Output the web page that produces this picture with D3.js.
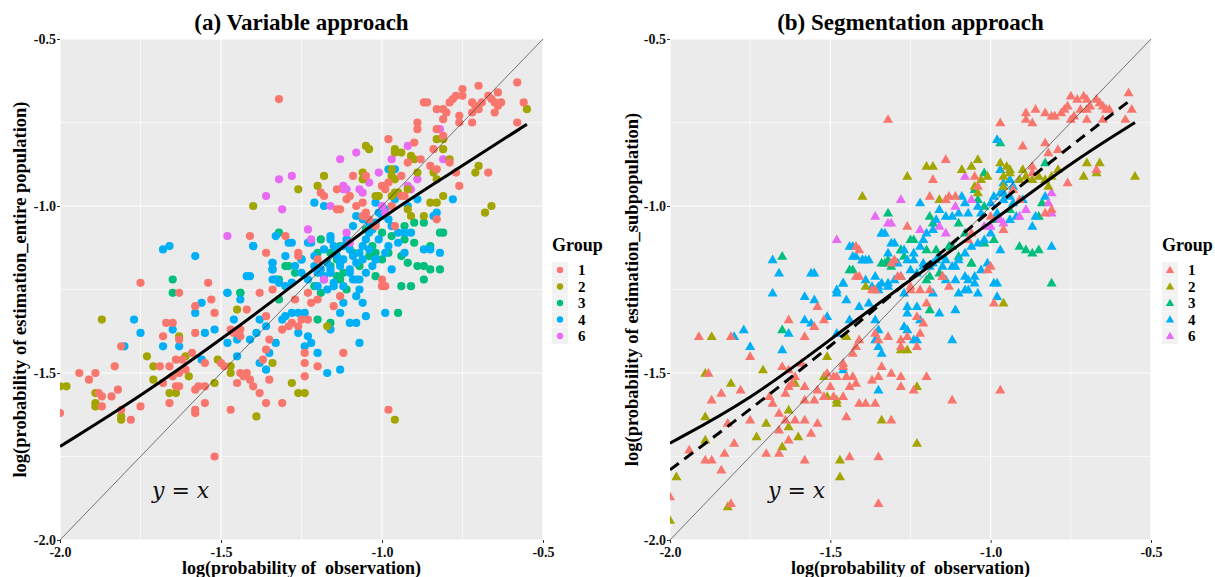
<!DOCTYPE html>
<html>
<head>
<meta charset="utf-8">
<script src="https://d3js.org/d3.v7.min.js"></script>
<style>
  body { margin: 0; background: #fff; }
  text { font-family: "Liberation Serif", "Times New Roman", serif; }
</style>
</head>
<body>
<div id="chart"></div>
<script>
// tick values (both axes, both panels)
var ticks = [-2.0, -1.5, -1.0, -0.5];
var minorTicks = [-1.75, -1.25, -0.75];
var groups = ["1", "2", "3", "4", "6"];
var palette = ["#F8766D", "#A3A500", "#00BF7D", "#00B0F6", "#E76BF3"];

// (a) Variable approach: [log prob observation, log prob estimation]
var a1 = [[-1.32,-0.68],[-0.58,-0.63],[-0.70,-0.64],[-0.75,-0.65],[-0.77,-0.67],[-0.78,-0.68],[-0.79,-0.69],[-0.81,-0.71],[-0.83,-0.71],[-0.80,-0.72],[-0.81,-0.74],[-0.76,-0.73],[-0.75,-0.67],[-0.72,-0.69],[-0.71,-0.70],[-0.69,-0.69],[-0.70,-0.71],[-0.72,-0.72],[-0.72,-0.75],[-0.76,-0.75],[-0.67,-0.67],[-0.66,-0.68],[-0.64,-0.66],[-0.65,-0.69],[-0.63,-0.69],[-0.64,-0.70],[-0.65,-0.72],[-0.58,-0.75],[-0.56,-0.69],[-0.87,-0.69],[-0.86,-0.69],[-0.89,-0.75],[-0.89,-0.77],[-0.83,-0.77],[-0.81,-0.79],[-0.90,-0.81],[-0.98,-0.80],[-0.84,-0.83],[-0.85,-0.88],[-0.83,-0.89],[-0.79,-0.87],[-0.77,-0.90],[-0.67,-0.90],[-0.76,-0.94],[-0.88,-0.86],[-0.92,-0.87],[-0.94,-0.91],[-0.98,-0.93],[-1.00,-0.94],[-0.99,-0.95],[-0.94,-0.97],[-1.09,-0.91],[-1.05,-0.91],[-1.14,-0.95],[-1.19,-0.96],[-1.18,-0.97],[-1.10,-0.97],[-1.11,-0.98],[-1.14,-1.01],[-1.13,-1.01],[-1.06,-0.99],[-1.08,-1.00],[-1.05,-1.02],[-1.06,-1.03],[-1.04,-1.04],[-0.96,-1.06],[-1.02,-1.06],[-0.97,-1.00],[-0.93,-0.97],[-0.83,-1.04],[-1.41,-1.09],[-1.30,-1.09],[-1.36,-1.14],[-1.26,-1.14],[-1.34,-1.25],[-0.99,-1.24],[-1.00,-1.22],
  [-1.75,-1.23],[-1.63,-1.26],[-1.54,-1.23],[-1.53,-1.28],[-1.58,-1.30],[-1.52,-1.32],[-1.67,-1.35],[-1.65,-1.35],[-1.68,-1.39],[-1.63,-1.40],[-1.58,-1.38],[-1.81,-1.42],[-1.83,-1.48],[-1.94,-1.50],[-1.91,-1.52],[-1.89,-1.50],[-1.88,-1.56],[-1.87,-1.57],[-1.84,-1.57],[-1.82,-1.55],[-2.00,-1.62],[-1.87,-1.60],[-1.81,-1.61],[-1.78,-1.64],[-1.75,-1.60],[-1.69,-1.48],[-1.66,-1.48],[-1.65,-1.51],[-1.63,-1.50],[-1.61,-1.49],[-1.64,-1.46],[-1.62,-1.46],[-1.59,-1.44],[-1.68,-1.53],[-1.64,-1.54],[-1.63,-1.54],[-1.66,-1.59],[-1.58,-1.55],[-1.57,-1.54],[-1.55,-1.54],[-1.55,-1.47],[-1.55,-1.59],[-1.58,-1.62],[-1.58,-1.61],[-1.47,-1.61],[-1.52,-1.75],[-1.49,-1.48],[-1.50,-1.47],[-1.47,-1.37],[-1.46,-1.38],[-1.44,-1.37],[-1.44,-1.39],[-1.44,-1.50],[-1.42,-1.50],[-1.43,-1.51],[-1.45,-1.53],[-1.41,-1.52],[-1.40,-1.54],[-1.38,-1.56],[-1.36,-1.59],[-1.31,-1.59],[-1.35,-1.52],[-1.37,-1.46],[-1.36,-1.43],[-1.42,-1.31],[-1.38,-1.26],[-1.36,-1.33],[-1.35,-1.40],[-1.31,-1.37],[-1.29,-1.36],[-1.28,-1.35],[-1.27,-1.28],[-1.25,-1.34],[-1.23,-1.34],[-1.26,-1.36],[-1.24,-1.44],[-1.24,-1.47],[-1.24,-1.51],[-1.20,-1.48],[-1.22,-1.29],[-1.20,-1.28],[-1.23,-1.26],[-1.15,-1.30],[-1.12,-1.44],[-1.13,-1.27],[-1.00,-1.24],[-0.98,-1.61],[-1.20,-1.16],[-1.26,-1.15]];
var a2 = [[-0.55,-0.71],[-1.05,-0.82],[-1.04,-0.83],[-0.96,-0.83],[-0.94,-0.84],[-0.96,-0.84],[-0.91,-0.85],[-0.90,-0.86],[-0.83,-0.80],[-0.81,-0.80],[-0.81,-0.83],[-0.79,-0.86],[-0.84,-0.90],[-0.83,-0.92],[-0.89,-0.90],[-0.70,-0.88],[-0.71,-0.90],[-0.66,-1.00],[-0.68,-1.02],[-1.18,-0.91],[-1.20,-0.94],[-1.26,-0.95],[-1.40,-1.00],[-1.06,-0.90],[-1.06,-0.92],[-0.97,-0.89],[-0.97,-0.91],[-0.96,-0.92],[-0.95,-0.96],[-1.01,-0.97],[-0.97,-0.97],[-0.96,-0.96],[-0.92,-0.95],[-0.92,-1.01],[-0.91,-1.03],[-0.87,-1.03],[-0.85,-0.99],[-0.81,-0.97],[-0.83,-0.99],[-1.02,-0.97],
  [-1.87,-1.34],[-2.00,-1.54],[-1.98,-1.54],[-1.89,-1.56],[-1.89,-1.59],[-1.89,-1.60],[-1.81,-1.63],[-1.81,-1.64],[-1.73,-1.45],[-1.71,-1.48],[-1.71,-1.52],[-1.66,-1.56],[-1.64,-1.56],[-1.63,-1.39],[-1.61,-1.45],[-1.60,-1.51],[-1.52,-1.53],[-1.51,-1.46],[-1.47,-1.48],[-1.47,-1.50],[-1.45,-1.31],[-1.39,-1.63],[-1.34,-1.47],[-1.28,-1.53],[-1.26,-1.56],[-1.24,-1.56],[-0.96,-1.64],[-1.17,-1.36]];
var a3 = [[-1.32,-1.08],[-1.19,-1.10],[-1.13,-1.12],[-1.29,-1.18],[-1.27,-1.20],[-1.44,-1.26],[-1.32,-1.22],[-1.20,-1.14],[-1.16,-1.14],[-1.14,-1.21],[-1.12,-1.20],[-1.11,-1.25],[-1.07,-1.18],[-1.04,-1.15],[-1.02,-1.14],[-1.00,-1.16],[-0.98,-1.14],[-0.94,-1.15],[-0.93,-1.10],[-0.90,-1.11],[-0.90,-1.05],[-0.87,-1.05],[-0.93,-1.06],[-1.00,-1.08],[-0.85,-1.12],[-0.82,-1.08],[-0.81,-1.08],[-0.92,-1.17],[-0.89,-1.18],[-0.87,-1.18],[-0.85,-1.19],[-0.82,-1.19],[-0.87,-1.22],[-0.91,-1.24],[-0.94,-1.24],[-1.02,-1.21],[-1.16,-1.18],
  [-1.65,-1.22],[-1.65,-1.26],[-1.44,-1.26],[-1.32,-1.28],[-1.30,-1.18],[-1.33,-1.22],[-1.20,-1.34],[-1.16,-1.35],[-0.95,-1.32],[-1.21,-1.24],[-1.19,-1.26],[-1.13,-1.22],[-1.05,-1.07],[-1.03,-1.12],[-0.97,-1.09],[-1.09,-1.14],[-1.14,-1.16]];
var a4 = [[-1.21,-0.99],[-1.18,-1.00],[-0.78,-0.98],[-0.98,-0.89],[-0.96,-0.89],[-1.33,-1.09],[-1.40,-1.12],[-1.28,-1.11],[-1.22,-1.11],[-1.30,-1.15],[-1.34,-1.17],[-1.34,-1.19],[-1.41,-1.21],[-1.48,-1.26],[-1.34,-1.22],[-1.28,-1.23],[-1.25,-1.16],[-1.21,-1.15],[-1.18,-1.13],[-1.16,-1.09],[-1.16,-1.10],[-1.15,-1.12],[-1.14,-1.15],[-1.17,-1.17],[-1.19,-1.19],[-1.16,-1.20],[-1.13,-1.18],[-1.12,-1.16],[-1.10,-1.20],[-1.08,-1.17],[-1.07,-1.14],[-1.06,-1.12],[-1.05,-1.10],[-1.04,-1.08],[-1.03,-1.07],[-1.02,-1.05],[-1.01,-1.02],[-0.99,-1.01],[-1.00,-1.03],[-1.02,-0.99],[-0.98,-1.04],[-0.97,-1.06],[-0.95,-1.08],[-0.93,-1.08],[-0.91,-1.08],[-0.95,-1.11],[-0.98,-1.12],[-0.99,-1.14],[-1.02,-1.16],[-1.03,-1.18],[-1.05,-1.20],[-1.07,-1.22],[-1.09,-1.22],[-1.12,-1.24],[-1.15,-1.23],[-1.18,-1.22],[-1.20,-1.24],[-1.07,-1.25],[-0.93,-1.14],[-0.87,-1.13],[-0.85,-1.13],[-0.82,-1.14],[-0.83,-1.02],[-0.84,-1.03],[-0.89,-0.98],[-0.92,-1.00],[-0.96,-0.98],[-1.08,-1.03],[-1.06,-1.04],[-1.09,-1.06],[-1.11,-1.10],[-1.12,-1.12],[-1.21,-1.18],[-1.25,-1.20],[-1.27,-1.18],
  [-1.68,-1.13],[-1.66,-1.12],[-1.58,-1.15],[-1.77,-1.34],[-1.75,-1.38],[-1.80,-1.42],[-1.68,-1.42],[-1.65,-1.37],[-1.58,-1.32],[-1.56,-1.29],[-1.63,-1.42],[-1.56,-1.46],[-1.52,-1.37],[-1.55,-1.38],[-1.48,-1.26],[-1.44,-1.28],[-1.42,-1.21],[-1.46,-1.34],[-1.48,-1.41],[-1.45,-1.40],[-1.45,-1.45],[-1.41,-1.40],[-1.39,-1.38],[-1.38,-1.34],[-1.36,-1.36],[-1.38,-1.47],[-1.36,-1.49],[-1.35,-1.44],[-1.33,-1.41],[-1.31,-1.34],[-1.30,-1.33],[-1.33,-1.22],[-1.32,-1.23],[-1.30,-1.24],[-1.34,-1.19],[-1.34,-1.17],[-1.29,-1.11],[-1.28,-1.23],[-1.28,-1.32],[-1.26,-1.32],[-1.24,-1.32],[-1.26,-1.38],[-1.23,-1.39],[-1.24,-1.42],[-1.20,-1.44],[-1.17,-1.50],[-1.13,-1.49],[-1.22,-1.41],[-1.16,-1.37],[-1.13,-1.32],[-1.10,-1.35],[-1.08,-1.35],[-1.05,-1.33],[-1.07,-1.41],[-1.08,-1.27],[-1.06,-1.29],[-0.99,-1.32],[-1.12,-1.29],[-1.17,-1.25],[-1.15,-1.24],[-1.18,-1.21],[-1.16,-1.19],[-1.13,-1.17],[-1.08,-1.22],[-1.10,-1.19],[-1.06,-1.16],[-1.02,-1.16],[-0.97,-1.19],[-1.23,-1.11],[-1.25,-1.16],[-1.40,-1.12],
  [-1.10,-1.13],[-1.09,-1.15],[-1.04,-1.13],[-1.01,-1.10],[-1.04,-1.05],[-1.14,-1.13],[-1.20,-1.20],[-1.23,-1.22]];
var a6 = [[-1.32,-0.92],[-1.28,-0.91],[-1.36,-0.97],[-1.48,-1.09],[-1.31,-1.01],[-1.13,-0.86],[-1.08,-0.84],[-1.12,-0.94],[-1.12,-0.95],[-1.11,-0.95],[-1.07,-0.95],[-1.06,-0.96],[-1.16,-1.00],[-1.04,-0.93],[-1.01,-0.90],[-0.97,-0.86],[-0.92,-0.82],[-0.89,-0.92],[-0.92,-0.94],[-0.91,-0.95],[-0.82,-0.77],[-0.81,-0.86],[-1.23,-1.07],[-1.22,-1.10],[-1.11,-1.08],[-0.99,-1.02],[-1.00,-1.00],[-1.18,-1.22],[-1.10,-1.11]];

// (b) Segmentation approach
var b1 = [[-1.32,-0.74],[-0.97,-0.75],[-0.89,-0.72],[-0.89,-0.74],[-0.87,-0.75],[-0.86,-0.71],[-0.83,-0.72],[-0.81,-0.73],[-0.80,-0.73],[-0.78,-0.72],[-0.77,-0.71],[-0.76,-0.70],[-0.75,-0.67],[-0.73,-0.68],[-0.71,-0.67],[-0.70,-0.68],[-0.69,-0.70],[-0.70,-0.71],[-0.72,-0.71],[-0.74,-0.73],[-0.75,-0.74],[-0.67,-0.68],[-0.66,-0.69],[-0.65,-0.70],[-0.63,-0.71],[-0.64,-0.71],[-0.65,-0.74],[-0.70,-0.74],[-0.57,-0.66],[-0.56,-0.71],[-0.58,-0.74],[-0.90,-0.82],[-0.83,-0.81],[-0.82,-0.84],[-0.79,-0.83],[-0.87,-0.88],[-0.67,-0.89],[-0.76,-0.93],[-1.14,-0.86],[-1.18,-0.92],[-1.19,-0.97],[-1.14,-0.98],[-1.13,-0.97],[-1.11,-0.97],[-1.05,-0.91],[-1.04,-0.94],[-1.26,-1.06],[-1.00,-1.03],[-1.06,-1.08],[-1.07,-1.10],[-0.96,-1.07],[-0.93,-0.95],[-0.87,-0.90],[-0.83,-1.02],[-0.81,-1.01],[-0.91,-0.98],[-1.41,-1.13],[-1.30,-1.16],[-1.41,-1.21],[-1.36,-1.25],[-1.28,-1.21],[-1.15,-1.21],[-1.00,-1.18],[-1.13,-1.24],[-1.19,-1.25],[-1.25,-1.25],
  [-1.91,-1.39],[-1.81,-1.39],[-1.75,-1.45],[-1.88,-1.50],[-1.84,-1.56],[-1.87,-1.58],[-1.78,-1.55],[-1.94,-1.73],[-1.89,-1.76],[-1.87,-1.76],[-1.84,-1.79],[-2.00,-1.87],[-1.82,-1.65],[-1.80,-1.71],[-1.83,-1.74],[-1.75,-1.64],[-1.69,-1.57],[-1.66,-1.62],[-1.68,-1.59],[-1.65,-1.48],[-1.63,-1.49],[-1.61,-1.51],[-1.59,-1.47],[-1.63,-1.34],[-1.58,-1.39],[-1.55,-1.36],[-1.52,-1.34],[-1.54,-1.30],[-1.64,-1.56],[-1.63,-1.54],[-1.62,-1.53],[-1.58,-1.54],[-1.58,-1.58],[-1.55,-1.58],[-1.54,-1.55],[-1.66,-1.67],[-1.64,-1.64],[-1.61,-1.64],[-1.58,-1.64],[-1.54,-1.65],[-1.70,-1.74],[-1.66,-1.74],[-1.63,-1.70],[-1.56,-1.68],[-1.58,-1.76],[-1.51,-1.50],[-1.50,-1.54],[-1.49,-1.51],[-1.48,-1.51],[-1.46,-1.48],[-1.46,-1.47],[-1.45,-1.51],[-1.43,-1.51],[-1.44,-1.54],[-1.42,-1.53],[-1.52,-1.57],[-1.49,-1.57],[-1.46,-1.57],[-1.45,-1.63],[-1.44,-1.75],[-1.41,-1.59],[-1.39,-1.59],[-1.36,-1.59],[-1.35,-1.75],[-1.31,-1.64],[-1.37,-1.52],[-1.35,-1.51],[-1.34,-1.48],[-1.31,-1.50],[-1.28,-1.51],[-1.28,-1.54],[-1.42,-1.42],[-1.41,-1.40],[-1.43,-1.44],[-1.36,-1.38],[-1.35,-1.40],[-1.32,-1.39],[-1.28,-1.40],[-1.28,-1.42],[-1.26,-1.39],[-1.22,-1.38],[-1.23,-1.42],[-1.20,-1.51],[-1.24,-1.55],[-1.12,-1.58],[-0.97,-1.55],[-0.99,-1.29],[-1.23,-1.33],[-1.21,-1.35],[-1.20,-1.29],[-1.22,-1.25],[-1.37,-1.25],[-1.42,-1.21],[-1.31,-1.17],[-1.25,-1.24],[-1.01,-1.19],[-1.15,-1.21],[-1.42,-1.12],[-1.29,-1.21],[-1.81,-1.89],[-1.35,-1.89]];
var b2 = [[-0.55,-0.91],[-1.26,-0.91],[-1.20,-0.88],[-1.18,-0.88],[-1.40,-0.97],[-1.09,-0.89],[-1.06,-0.88],[-1.04,-0.86],[-1.16,-0.98],[-0.97,-0.87],[-0.95,-0.88],[-0.94,-0.89],[-0.96,-0.91],[-0.94,-0.90],[-0.90,-0.89],[-0.89,-0.91],[-0.91,-0.92],[-0.87,-0.92],[-0.85,-0.91],[-0.83,-0.92],[-0.81,-0.91],[-0.79,-0.89],[-0.71,-0.91],[-0.67,-0.90],[-0.70,-0.87],[-0.66,-0.87],[-1.01,-0.91],[-1.03,-0.92],[-1.05,-0.94],[-1.04,-0.96],[-0.96,-0.94],[-0.82,-0.94],
  [-1.87,-1.39],[-1.89,-1.50],[-1.81,-1.53],[-1.89,-1.63],[-1.89,-1.70],[-1.71,-1.49],[-1.70,-1.65],[-1.73,-1.69],[-1.65,-1.72],[-1.63,-1.61],[-1.63,-1.66],[-1.60,-1.69],[-1.61,-1.53],[-1.52,-1.51],[-1.51,-1.45],[-1.51,-1.57],[-1.48,-1.59],[-1.48,-1.58],[-1.47,-1.76],[-1.47,-1.81],[-1.45,-1.39],[-1.39,-1.24],[-1.34,-1.64],[-1.28,-1.43],[-1.26,-1.43],[-1.23,-1.54],[-1.23,-1.71],[-0.96,-1.29],[-1.98,-1.81],[-2.00,-1.94],[-1.82,-1.90]];
var b3 = [[-0.97,-0.81],[-0.83,-0.87],[-1.32,-1.02],[-1.19,-1.03],[-1.18,-1.05],[-1.02,-0.90],[-1.05,-0.95],[-1.04,-0.98],[-1.02,-1.00],[-0.99,-1.04],[-0.85,-1.03],[-0.84,-0.99],[-0.91,-1.12],[-0.89,-1.13],[-0.87,-1.14],[-0.85,-1.13],[-0.81,-1.23],[-1.34,-1.17],[-1.32,-1.16],[-1.28,-1.13],[-1.27,-1.15],[-1.24,-1.10],[-1.20,-1.13],[-1.12,-1.12],[-1.08,-1.08],[-1.16,-1.20],[-1.19,-1.21],[-1.06,-1.17],[-1.43,-1.19],[-1.10,-1.05],[-0.94,-1.01],
  [-1.65,-1.15],[-1.44,-1.19],[-1.65,-1.37],[-1.19,-1.31],[-1.33,-1.17],[-1.31,-1.18],[-1.28,-1.13],[-1.25,-1.10],[-1.20,-1.22],[-1.17,-1.13],[-1.13,-1.12],[-1.10,-1.15],[-1.06,-1.17],[-1.02,-1.11],[-0.99,-1.10]];
var b4 = [[-0.98,-0.80],[-1.22,-0.99],[-0.97,-0.89],[-1.34,-1.08],[-1.33,-1.08],[-1.43,-1.12],[-1.42,-1.15],[-1.40,-1.16],[-1.38,-1.16],[-1.46,-1.23],[-1.48,-1.25],[-1.55,-1.20],[-1.30,-1.11],[-1.32,-1.14],[-1.29,-1.17],[-1.26,-1.16],[-1.24,-1.14],[-1.22,-1.12],[-1.21,-1.10],[-1.20,-1.08],[-1.18,-1.07],[-1.17,-1.04],[-1.16,-1.01],[-1.14,-1.03],[-1.12,-1.03],[-1.10,-1.02],[-1.09,-0.97],[-1.08,-0.99],[-1.07,-1.02],[-1.04,-1.00],[-1.03,-1.02],[-1.00,-0.99],[-0.99,-0.97],[-0.97,-0.96],[-0.96,-0.98],[-0.94,-0.97],[-0.93,-0.99],[-0.92,-1.03],[-0.94,-1.04],[-0.98,-1.02],[-1.00,-1.08],[-1.02,-1.10],[-1.04,-1.11],[-1.06,-1.12],[-1.08,-1.14],[-1.10,-1.16],[-1.12,-1.18],[-1.14,-1.16],[-1.16,-1.15],[-1.18,-1.17],[-1.21,-1.18],[-1.23,-1.20],[-1.25,-1.19],[-1.28,-1.21],[-1.30,-1.22],[-1.32,-1.23],[-1.35,-1.24],[-1.37,-1.24],[-1.11,-1.22],[-1.07,-1.22],[-1.05,-1.21],[-1.03,-1.19],[-0.98,-1.23],[-0.98,-1.27],[-1.04,-1.26],[-1.08,-1.25],[-0.94,-0.92],[-0.93,-0.94],[-0.96,-0.93],[-0.96,-0.96],[-0.90,-0.98],[-0.87,-1.06],[-0.86,-1.03],[-0.83,-0.97],[-0.81,-1.12],
  [-1.68,-1.16],[-1.66,-1.20],[-1.56,-1.20],[-1.68,-1.26],[-1.58,-1.27],[-1.55,-1.28],[-1.58,-1.34],[-1.56,-1.35],[-1.63,-1.38],[-1.77,-1.37],[-1.80,-1.39],[-1.75,-1.42],[-1.65,-1.43],[-1.51,-1.33],[-1.48,-1.26],[-1.46,-1.23],[-1.45,-1.28],[-1.48,-1.38],[-1.44,-1.34],[-1.44,-1.12],[-1.43,-1.15],[-1.40,-1.16],[-1.39,-1.16],[-1.41,-1.30],[-1.38,-1.29],[-1.39,-1.22],[-1.36,-1.21],[-1.34,-1.23],[-1.32,-1.24],[-1.35,-1.25],[-1.36,-1.34],[-1.35,-1.37],[-1.36,-1.40],[-1.35,-1.42],[-1.34,-1.44],[-1.27,-1.26],[-1.26,-1.30],[-1.26,-1.32],[-1.23,-1.30],[-1.22,-1.34],[-1.26,-1.37],[-1.24,-1.40],[-1.23,-1.40],[-1.18,-1.26],[-1.16,-1.32],[-1.11,-1.31],[-1.12,-1.40],[-0.99,-1.23],[-0.97,-1.13],[-1.10,-1.26],[-1.07,-1.25],[-1.05,-1.23],[-1.14,-1.22],[-1.08,-1.21],[-1.46,-1.49],[-1.35,-1.55],[-1.27,-1.36],[-1.34,-1.08],[-1.31,-1.11],[-1.27,-1.13],[-1.24,-1.16],[-1.21,-1.17],[-1.19,-1.18],[-1.17,-1.16],[-1.15,-1.18],[-1.11,-1.18],[-1.01,-1.17]];
var b6 = [[-1.28,-0.98],[-1.36,-1.03],[-1.32,-1.05],[-1.31,-1.05],[-1.48,-1.10],[-1.08,-0.91],[-1.11,-1.00],[-1.06,-0.98],[-1.02,-1.06],[-1.00,-1.06],[-0.97,-1.04],[-0.96,-1.05],[-0.89,-1.01],[-0.82,-0.99],[-0.81,-1.02],[-0.81,-0.96],[-0.91,-1.03],[-1.14,-1.08],[-1.16,-1.06],[-1.22,-1.07]];

// fitted curves
var fitA = [[-2.0,-1.72],[-1.75,-1.57],[-1.5,-1.40],[-1.25,-1.22],[-1.0,-1.03],[-0.75,-0.88],[-0.55,-0.755]];
var fitB = [[-2.0,-1.71],[-1.75,-1.58],[-1.5,-1.40],[-1.25,-1.22],[-1.0,-1.05],[-0.75,-0.87],[-0.55,-0.75]];
var fitBDash = [[-2.0,-1.79],[-1.75,-1.61],[-1.5,-1.42],[-1.25,-1.22],[-1.0,-1.01],[-0.75,-0.82],[-0.56,-0.68]];
var identity = [[-2.0,-2.0],[-0.5,-0.5]];

var W = 1215, H = 577;
var svg = d3.select("#chart").append("svg").attr("width", W).attr("height", H);

var panels = [
  {id:"a", title:"(a) Variable approach", ylab:"log(probability of estimation_entire population)",
   x0:60, x1:543, shape:"circle", data:[a1,a2,a3,a4,a6], fits:[fitA], dash:null,
   yLabX:26, legX:552, yx:152},
  {id:"b", title:"(b) Segmentation approach", ylab:"log(probability of estimation_subpopulation)",
   x0:670, x1:1151, shape:"triangle", data:[b1,b2,b3,b4,b6], fits:[fitB], dash:fitBDash,
   yLabX:638, legX:1162, yx:768}
];
var drawOrder = [2, 3, 4, 1, 0];

panels.forEach(function(p){
  var x = d3.scaleLinear().domain([-2, -0.5]).range([p.x0, p.x1]);
  var y = d3.scaleLinear().domain([-2, -0.5]).range([540, 39]);
  var g = svg.append("g");

  g.append("clipPath").attr("id", "clip" + p.id)
    .append("rect").attr("x", p.x0).attr("y", 39).attr("width", p.x1 - p.x0).attr("height", 501);

  g.append("rect").attr("x", p.x0).attr("y", 39).attr("width", p.x1 - p.x0).attr("height", 501)
    .attr("fill", "#EBEBEB");

  // grid
  g.selectAll(".minx").data(minorTicks).enter().append("line")
    .attr("x1", d => x(d)).attr("x2", d => x(d)).attr("y1", 39).attr("y2", 540)
    .attr("stroke", "#fff").attr("stroke-width", 0.6);
  g.selectAll(".miny").data(minorTicks).enter().append("line")
    .attr("y1", d => y(d)).attr("y2", d => y(d)).attr("x1", p.x0).attr("x2", p.x1)
    .attr("stroke", "#fff").attr("stroke-width", 0.6);
  g.selectAll(".majx").data(ticks).enter().append("line")
    .attr("x1", d => x(d)).attr("x2", d => x(d)).attr("y1", 39).attr("y2", 540)
    .attr("stroke", "#fff").attr("stroke-width", 1.2);
  g.selectAll(".majy").data(ticks).enter().append("line")
    .attr("y1", d => y(d)).attr("y2", d => y(d)).attr("x1", p.x0).attr("x2", p.x1)
    .attr("stroke", "#fff").attr("stroke-width", 1.2);

  // axes
  var xAxis = g.append("g").attr("transform", "translate(0,540)")
    .call(d3.axisBottom(x).tickValues(ticks).tickSize(3).tickPadding(4).tickFormat(d3.format(".1f")));
  var yAxis = g.append("g").attr("transform", "translate(" + p.x0 + ",0)")
    .call(d3.axisLeft(y).tickValues(ticks).tickSize(3).tickPadding(1).tickFormat(d3.format(".1f")));
  [xAxis, yAxis].forEach(function(a){
    a.select(".domain").remove();
    a.selectAll(".tick line").attr("stroke", "#333");
    a.selectAll("text").attr("fill", "#111").style("font-family", "Liberation Serif")
      .style("font-weight", "bold").style("font-size", "14px")
      .text(function(d){ return d3.format(".1f")(d).replace("\u2212", "-"); });
  });

  // points
  var pts = g.append("g").attr("clip-path", "url(#clip" + p.id + ")");
  drawOrder.forEach(function(gi){
    var sel = pts.selectAll(".g" + gi).data(p.data[gi]).enter();
    if (p.shape === "circle") {
      sel.append("circle").attr("cx", d => x(d[0])).attr("cy", d => y(d[1])).attr("r", 4.1)
        .attr("fill", palette[gi]);
    } else {
      sel.append("path").attr("d", d3.symbol().type(d3.symbolTriangle).size(44))
        .attr("transform", d => "translate(" + x(d[0]) + "," + (y(d[1]) + 0.8) + ")")
        .attr("fill", palette[gi]);
    }
  });

  var line = d3.line().x(d => x(d[0])).y(d => y(d[1]));
  var curve = d3.line().x(d => x(d[0])).y(d => y(d[1])).curve(d3.curveBasis);
  var lines = g.append("g").attr("clip-path", "url(#clip" + p.id + ")");
  lines.append("path").datum(identity).attr("d", line).attr("fill", "none")
    .attr("stroke", "#222").attr("stroke-width", 0.6);
  if (p.dash) {
    lines.append("path").datum(p.dash).attr("d", curve).attr("fill", "none")
      .attr("stroke", "#000").attr("stroke-width", 3).attr("stroke-dasharray", "11,7");
  }
  p.fits.forEach(function(f){
    lines.append("path").datum(f).attr("d", curve).attr("fill", "none")
      .attr("stroke", "#000").attr("stroke-width", 3);
  });

  // y = x label
  g.append("text").attr("x", p.yx).attr("y", 498)
    .style("font-family", "DejaVu Serif").style("font-style", "italic").style("font-size", "22px")
    .attr("fill", "#111").text("y = x");

  // titles
  g.append("text").attr("x", (p.x0 + p.x1) / 2).attr("y", 30).attr("text-anchor", "middle")
    .style("font-weight", "bold").style("font-size", "23px").text(p.title);
  g.append("text").attr("x", (p.x0 + p.x1) / 2).attr("y", 574).attr("text-anchor", "middle")
    .style("font-weight", "bold").style("font-size", "18px").attr("xml:space", "preserve")
    .text("log(probability of  observation)");
  g.append("text").attr("transform", "translate(" + p.yLabX + "," + 289.5 + ") rotate(-90)")
    .attr("text-anchor", "middle").style("font-weight", "bold").style("font-size", "18.5px")
    .text(p.ylab);

  // legend
  var leg = g.append("g").attr("transform", "translate(" + p.legX + ",0)");
  leg.append("text").attr("x", 0).attr("y", 251).style("font-weight", "bold").style("font-size", "18px")
    .text("Group");
  groups.forEach(function(gr, i){
    var cy = 270 + i * 16.5;
    leg.append("rect").attr("x", 0).attr("y", cy - 8).attr("width", 16).attr("height", 16)
      .attr("fill", "#F2F2F2");
    if (p.shape === "circle") {
      leg.append("circle").attr("cx", 8).attr("cy", cy).attr("r", 3.2).attr("fill", palette[i]);
    } else {
      leg.append("path").attr("d", d3.symbol().type(d3.symbolTriangle).size(30))
        .attr("transform", "translate(8," + (cy + 0.6) + ")").attr("fill", palette[i]);
    }
    leg.append("text").attr("x", 26).attr("y", cy + 5).style("font-weight", "bold").style("font-size", "15px")
      .text(gr);
  });
});
</script>
</body>
</html>
